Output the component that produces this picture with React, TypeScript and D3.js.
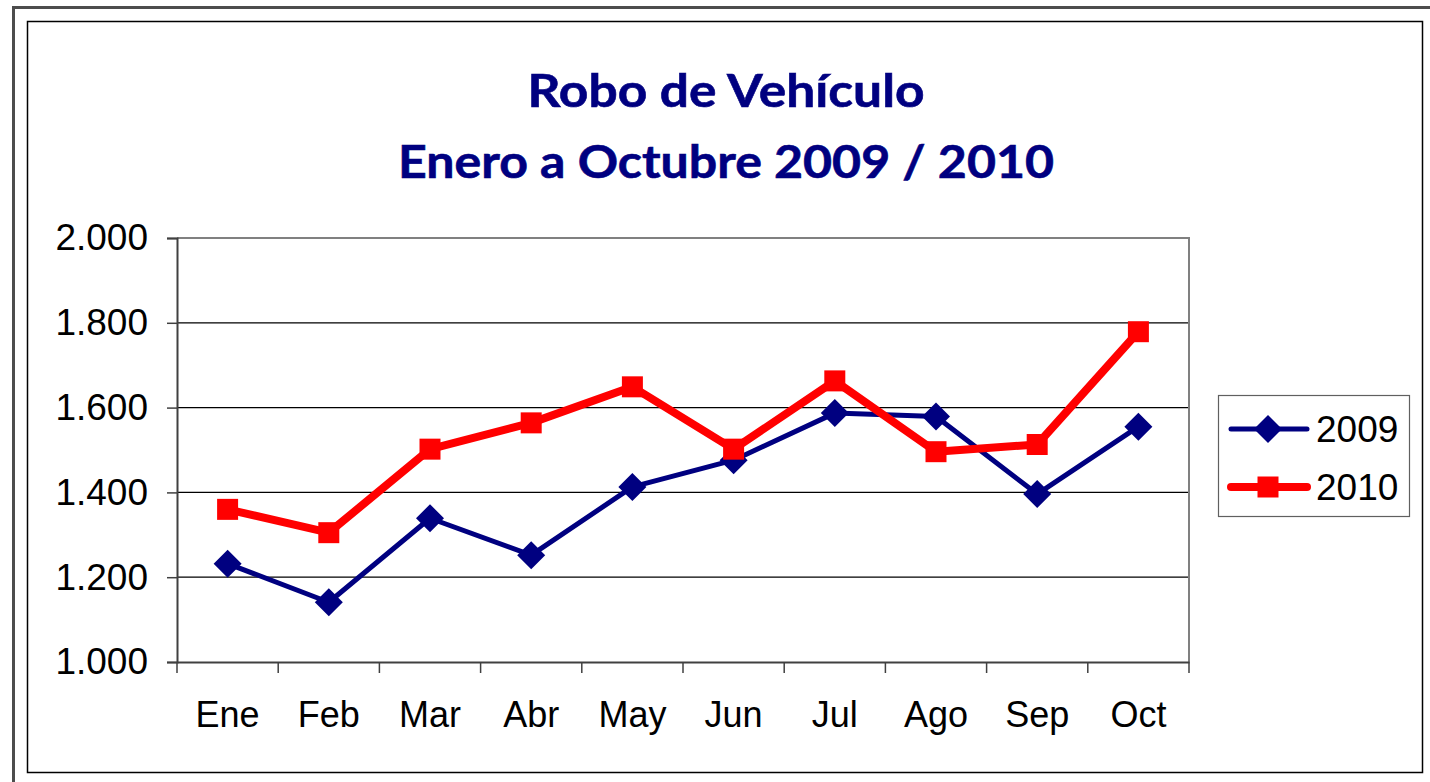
import React, { useRef, useEffect } from 'react';
import * as d3 from 'd3';

// Robo de Vehículo, Enero a Octubre 2009 / 2010
const months = ['Ene', 'Feb', 'Mar', 'Abr', 'May', 'Jun', 'Jul', 'Ago', 'Sep', 'Oct'];
const robos2009 = [1232, 1141, 1339, 1252, 1413, 1476, 1587, 1579, 1396, 1555];
const robos2010 = [1360, 1305, 1502, 1564, 1649, 1502, 1663, 1496, 1513, 1779];
const yTicks = [1000, 1200, 1400, 1600, 1800, 2000];
const titleLines = ['Robo de Vehículo', 'Enero a Octubre 2009 / 2010'];

const W = 1430;
const H = 782;

const App = () => {
    const svgRef = useRef<SVGSVGElement>(null);

    useEffect(() => {
        const svg = d3.select(svgRef.current);
        svg.selectAll('*').remove();

        const plot = { left: 177, right: 1189, top: 238, bottom: 662 };
        const fontArial = "'Liberation Sans', Arial, sans-serif";
        const navy = '#000080';
        const red = '#ff0000';

        const x = d3.scaleBand<string>()
            .domain(months)
            .range([plot.left, plot.right]);

        const y = d3.scaleLinear()
            .domain([1000, 2000])
            .range([plot.bottom, plot.top]);

        const fmt = d3.formatLocale({ decimal: ',', thousands: '.', grouping: [3], currency: ['$', ''] }).format(',');

        // outer frame (runs off the picture) and inner frame
        svg.append('rect')
            .attr('x', 13.5).attr('y', 7.5)
            .attr('width', W + 20).attr('height', H + 20)
            .attr('fill', 'none')
            .attr('stroke', '#4d4d4d')
            .attr('stroke-width', 3);
        svg.append('rect')
            .attr('x', 27.5).attr('y', 21.5)
            .attr('width', 1395).attr('height', 751)
            .attr('fill', '#fff')
            .attr('stroke', '#000')
            .attr('stroke-width', 1.5);

        // title (stretched a little, the original picture is wider than Calibri)
        const titleWidths = [397, 656];
        svg.append('g')
            .selectAll('text')
            .data(titleLines)
            .enter()
            .append('text')
            .attr('x', 726)
            .attr('y', (d, i) => 107 + i * 71)
            .attr('text-anchor', 'middle')
            .attr('font-family', "Lato, 'Open Sans', sans-serif")
            .attr('font-weight', 700)
            .attr('font-size', 46)
            .attr('textLength', (d, i) => titleWidths[i])
            .attr('lengthAdjust', 'spacingAndGlyphs')
            .attr('fill', navy)
            .attr('stroke', navy)
            .attr('stroke-width', 0.6)
            .text(d => d);

        // gridlines
        svg.append('g')
            .selectAll('line')
            .data(yTicks.slice(1, -1))
            .enter()
            .append('line')
            .attr('x1', plot.left).attr('x2', plot.right)
            .attr('y1', d => y(d)).attr('y2', d => y(d))
            .attr('stroke', '#000')
            .attr('stroke-width', 1.2);

        // plot area border: top and right
        svg.append('path')
            .attr('d', `M${plot.left},${plot.top}H${plot.right}V${plot.bottom}`)
            .attr('fill', 'none')
            .attr('stroke', '#808080')
            .attr('stroke-width', 2);

        // y axis
        const yAxis = svg.append('g')
            .attr('transform', `translate(${plot.left},0)`)
            .call(d3.axisLeft(y).tickValues(yTicks).tickSize(10).tickPadding(19).tickFormat(d => fmt(d as number)));
        yAxis.select('.domain').attr('stroke', '#404040').attr('stroke-width', 2);
        yAxis.selectAll('.tick line').attr('stroke', '#404040').attr('stroke-width', 1.5);
        yAxis.selectAll('.tick text')
            .attr('font-family', fontArial)
            .attr('font-size', 37)
            .attr('fill', '#000');

        // x axis
        const xAxis = svg.append('g')
            .attr('transform', `translate(0,${plot.bottom})`)
            .call(d3.axisBottom(x).tickSize(0).tickPadding(0));
        xAxis.select('.domain').attr('stroke', '#404040').attr('stroke-width', 2);
        xAxis.selectAll('.tick text')
            .attr('font-family', fontArial)
            .attr('font-size', 36)
            .attr('fill', '#000')
            .attr('dy', null)
            .attr('y', 65);
        xAxis.append('g')
            .selectAll('line')
            .data(d3.range(months.length + 1))
            .enter()
            .append('line')
            .attr('x1', i => plot.left + i * x.step())
            .attr('x2', i => plot.left + i * x.step())
            .attr('y1', 0).attr('y2', 11)
            .attr('stroke', '#404040')
            .attr('stroke-width', 1.5);

        const cx = (m: string) => (x(m) as number) + x.bandwidth() / 2;

        const line = d3.line<number>()
            .x((d, i) => cx(months[i]))
            .y(d => y(d));

        const diamond = d3.symbol().type(d3.symbolSquare).size(392);
        const square = d3.symbol().type(d3.symbolSquare).size(441);

        // 2009 series
        svg.append('path')
            .datum(robos2009)
            .attr('d', line)
            .attr('fill', 'none')
            .attr('stroke', navy)
            .attr('stroke-width', 5)
            .attr('stroke-linejoin', 'round');
        svg.append('g')
            .selectAll('path')
            .data(robos2009)
            .enter()
            .append('path')
            .attr('d', diamond)
            .attr('transform', (d, i) => `translate(${cx(months[i])},${y(d)}) rotate(45)`)
            .attr('fill', navy);

        // 2010 series
        svg.append('path')
            .datum(robos2010)
            .attr('d', line)
            .attr('fill', 'none')
            .attr('stroke', red)
            .attr('stroke-width', 8)
            .attr('stroke-linejoin', 'round');
        svg.append('g')
            .selectAll('path')
            .data(robos2010)
            .enter()
            .append('path')
            .attr('d', square)
            .attr('transform', (d, i) => `translate(${cx(months[i])},${y(d)})`)
            .attr('fill', red);

        // legend
        const legend = svg.append('g').attr('transform', 'translate(1218,395)');
        legend.append('rect')
            .attr('x', 0.5).attr('y', 0.5)
            .attr('width', 191).attr('height', 121)
            .attr('fill', '#fff')
            .attr('stroke', '#606060')
            .attr('stroke-width', 1.2);

        const legendItems = [
            { name: '2009', color: navy, width: 5, sym: diamond, rot: 45, ly: 34 },
            { name: '2010', color: red, width: 8, sym: square, rot: 0, ly: 92 },
        ];
        const item = legend.selectAll('.item')
            .data(legendItems)
            .enter()
            .append('g')
            .attr('class', 'item')
            .attr('transform', d => `translate(0,${d.ly})`);
        item.append('line')
            .attr('x1', 13).attr('x2', 89)
            .attr('stroke', d => d.color)
            .attr('stroke-width', d => d.width)
            .attr('stroke-linecap', 'round');
        item.append('path')
            .attr('d', d => d.sym())
            .attr('transform', d => `translate(50,0) rotate(${d.rot})`)
            .attr('fill', d => d.color);
        item.append('text')
            .attr('x', 98)
            .attr('y', 13)
            .attr('font-family', fontArial)
            .attr('font-size', 37)
            .attr('fill', '#000')
            .text(d => d.name);
    }, []);

    return (
        <svg
            ref={svgRef}
            width={W}
            height={H}
            style={{ position: 'absolute', left: 0, top: 0, background: '#fff' }}
        />
    );
};

export default App;
